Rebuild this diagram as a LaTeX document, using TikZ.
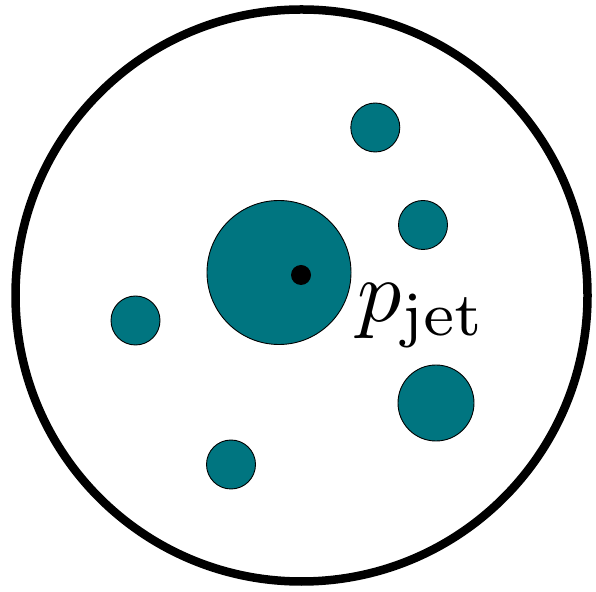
\documentclass[tikz,border=0pt]{standalone}
\usepackage{graphicx}
\definecolor{teal1}{RGB}{0,117,128}
\begin{document}
\begin{tikzpicture}[x=1pt,y=1pt,
  blob/.style={circle,draw=black,line width=0.9pt,fill=teal1,inner sep=0pt,minimum size=#1},
]
\useasboundingbox (0,0) rectangle (596,591);
\node[circle,draw=black,line width=8.5pt,minimum size=572pt,inner sep=0pt] (outer) at (301.5,295.5) {};
\node[blob=49pt] (c1) at (375.3,463.5) {};
\node[blob=49pt] (c2) at (423,366) {};
\node[blob=144pt] (jet) at (279,318.5) {};
\node[circle,fill=black,inner sep=0pt,minimum size=20pt] (dot) at (301,316) {};
\node[blob=49pt] (c3) at (135.5,270.5) {};
\node[blob=76pt] (c4) at (436,188) {};
\node[blob=49pt] (c5) at (231,126.5) {};
\node[anchor=base west,inner sep=0pt] (lab) at (357,269) {\scalebox{8.8}{$p_{\mathrm{jet}}$}};
\end{tikzpicture}
\end{document}
